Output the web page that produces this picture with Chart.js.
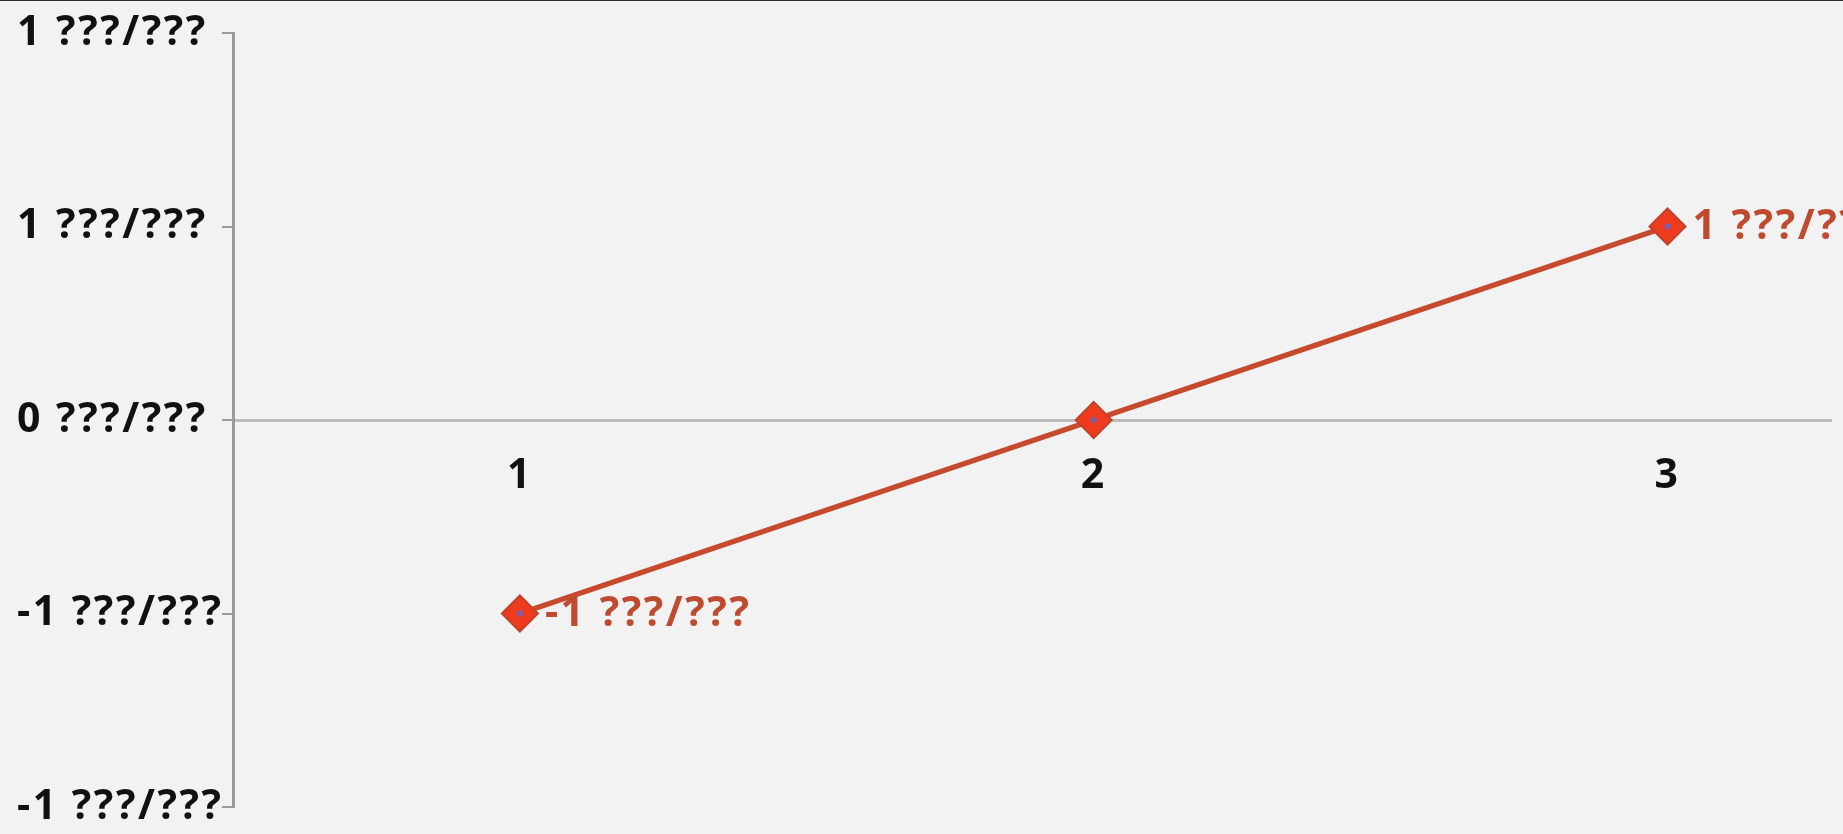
<!DOCTYPE html>
<html>
<head>
<meta charset="utf-8">
<script src="https://cdn.jsdelivr.net/npm/chart.js@4.4.1/dist/chart.umd.min.js"></script>
<style>
  html, body { margin: 0; padding: 0; background: #F2F2F2; overflow: hidden; }
  #wrap { position: relative; width: 1843px; height: 834px; }
  #topline { position: absolute; left: 0; top: 0; width: 100%; height: 1px; background: #2b2b2b; }
</style>
</head>
<body>
<div id="wrap">
  <canvas id="chart"></canvas>
  <div id="topline"></div>
</div>
<script>
// data
const xValues = [1, 2, 3];
const seriesValues = [-1, 0, 1];
const pointLabels = ['-1 ???/???', '', '1 ???/???'];
const yTickValues = [-2, -1, 0, 1, 2];
const yTickLabels = ['-1 ???/???', '-1 ???/???', '0 ???/???', '1 ???/???', '1 ???/???'];

const FONT = '"Open Sans"';
const FONT_SIZE = 41;
const SPACING = '2.5px';
const points = xValues.map((x, i) => ({ x: x, y: seriesValues[i] }));

// wider letter spacing, the reference text is an upscaled Calibri
const spacingPlugin = {
  id: 'spacing',
  beforeInit(chart) { chart.ctx.letterSpacing = SPACING; },
  beforeUpdate(chart) { chart.ctx.letterSpacing = SPACING; },
  beforeDraw(chart) { chart.ctx.letterSpacing = SPACING; }
};

// labels to the right of each marker, like Excel data labels
const pointLabelPlugin = {
  id: 'pointLabels',
  afterDatasetsDraw(chart) {
    const ctx = chart.ctx;
    const meta = chart.getDatasetMeta(1);
    ctx.save();
    ctx.font = 'bold ' + FONT_SIZE + 'px ' + FONT;
    ctx.fillStyle = '#BE4A30';
    ctx.textAlign = 'left';
    ctx.textBaseline = 'middle';
    meta.data.forEach((pt, i) => {
      if (pointLabels[i]) ctx.fillText(pointLabels[i], pt.x + 25, pt.y + 1);
    });
    ctx.restore();
  }
};

new Chart(document.getElementById('chart'), {
  type: 'line',
  data: {
    datasets: [
      {
        // small purple centre dot on every marker
        data: points,
        showLine: false,
        pointStyle: 'circle',
        pointRadius: 3,
        pointBackgroundColor: '#7A5FB0',
        pointBorderWidth: 0
      },
      {
        data: points,
        borderColor: '#C64A2E',
        borderWidth: 5.5,
        pointStyle: 'rectRot',
        pointRadius: 18,
        pointBackgroundColor: '#EE3B1E',
        pointBorderColor: '#C3412A',
        pointBorderWidth: 2,
        tension: 0
      }
    ]
  },
  options: {
    responsive: true,
    maintainAspectRatio: false,
    animation: false,
    layout: { autoPadding: false, padding: { left: 17, right: 12, top: 33, bottom: 27 } },
    plugins: {
      legend: { display: false },
      tooltip: { enabled: false }
    },
    scales: {
      x: {
        type: 'linear',
        position: { y: 0 },
        min: 0.5,
        max: 3.285,
        afterBuildTicks: (scale) => { scale.ticks = xValues.map(v => ({ value: v })); },
        afterFit: (scale) => { scale.paddingLeft = 0; scale.paddingRight = 0; },
        grid: { display: false, drawTicks: false },
        border: { display: true, color: '#BDBDBD', width: 3 },
        ticks: {
          padding: 32,
          color: '#111',
          font: { family: FONT, size: FONT_SIZE, weight: 'bold' },
          callback: (v) => String(v)
        }
      },
      y: {
        min: -2,
        max: 2,
        afterBuildTicks: (scale) => { scale.ticks = yTickValues.map(v => ({ value: v })); },
        afterFit: (scale) => {
          scale.width = 216;
          scale.paddingTop = 0;
          scale.paddingBottom = 0;
        },
        grid: { drawOnChartArea: false, drawTicks: true, tickLength: 11, color: '#9A9A9A', lineWidth: 2 },
        border: { display: true, color: '#9A9A9A', width: 3 },
        ticks: {
          padding: 17,
          crossAlign: 'far',
          color: '#111',
          font: { family: FONT, size: FONT_SIZE, weight: 'bold' },
          callback: (v) => yTickLabels[yTickValues.indexOf(v)]
        }
      }
    }
  },
  plugins: [spacingPlugin, pointLabelPlugin]
});
</script>
</body>
</html>
